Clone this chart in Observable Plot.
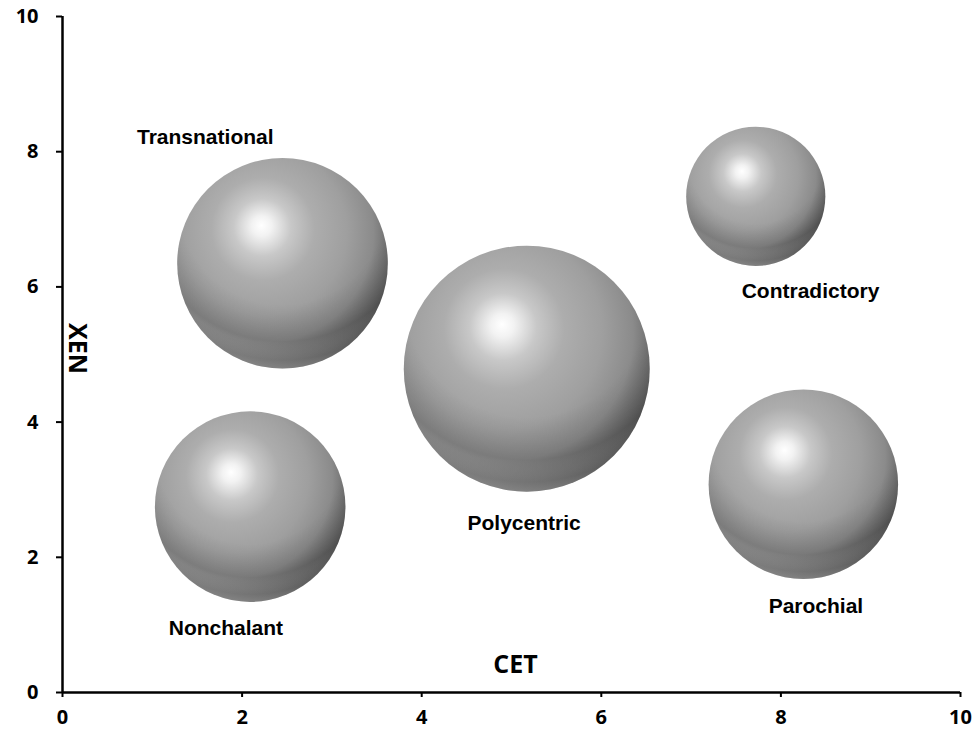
<!DOCTYPE html>
<html>
<head>
<meta charset="utf-8">
<script src="https://cdn.jsdelivr.net/npm/d3@7"></script>
<script src="https://cdn.jsdelivr.net/npm/@observablehq/plot@0.6"></script>
<style>
  html, body { margin: 0; padding: 0; background: #fff; }
  #chart svg { display: block; }
</style>
</head>
<body>
<div id="chart"></div>
<script>
// Data
const names  = ["Transnational", "Polycentric", "Contradictory", "Parochial", "Nonchalant"];
const cet    = [2.45, 5.17, 7.72, 8.25, 2.09];
const xen    = [6.35, 4.79, 7.34, 3.08, 2.75];
const sizes  = [11.0, 15.0, 4.8, 8.9, 9.0];
// label anchor positions (data units)
const labelX = [1.59, 5.14, 8.33, 8.39, 1.82];
const labelY = [8.22, 2.51, 5.93, 1.27, 0.95];
const ticks  = [0, 2, 4, 6, 8, 10];

const data = names.map((n, i) => ({name: n, x: cet[i], y: xen[i], s: sizes[i], lx: labelX[i], ly: labelY[i]}));

const fontTick = "'Open Sans', 'Liberation Sans', sans-serif";
const fontLbl = "'Liberation Sans Narrow', 'Liberation Sans', Arial, sans-serif";

const chart = Plot.plot({
  width: 979,
  height: 740,
  marginLeft: 62,
  marginRight: 19,
  marginTop: 16,
  marginBottom: 48,
  style: {fontFamily: fontTick, fontSize: "20px", fontWeight: "bold", color: "#000", background: "#fff"},
  x: {domain: [0, 10], ticks: ticks, label: null},
  y: {domain: [0, 10], ticks: ticks, label: null},
  r: {type: "sqrt", domain: [0, 15], range: [0, 123]},
  marks: [
    Plot.axisX({ticks: ticks, tickSize: 5, tickPadding: 12, fontSize: 20, fontWeight: "bold", stroke: "#000", strokeWidth: 2, label: null}),
    Plot.axisY({ticks: ticks, tickSize: 6, tickPadding: 18, fontSize: 20, fontWeight: "bold", stroke: "#000", strokeWidth: 2, label: null}),
    Plot.ruleX([0], {stroke: "#000", strokeWidth: 2.5}),
    Plot.ruleY([0], {stroke: "#000", strokeWidth: 2.5}),
    Plot.dot(data, {x: "x", y: "y", r: "s", fill: "url(#sphere)", stroke: "none"}),
    Plot.dot(data, {x: "x", y: "y", r: "s", fill: "url(#shade)", stroke: "none"}),
    Plot.text(data, {x: "lx", y: "ly", text: "name", fontSize: 21, fontWeight: "bold", fontFamily: fontLbl, fill: "#000"}),
    Plot.text(["CET"], {frameAnchor: "bottom", dy: -20, dx: 4, text: d => d, fontSize: 25, fontWeight: "bold", fontFamily: fontTick}),
    Plot.text(["XEN"], {frameAnchor: "left", textAnchor: "middle", dx: 14, dy: -6, rotate: 90, text: d => d, fontSize: 25, fontWeight: "bold", fontFamily: fontTick})
  ]
});

const ns = "http://www.w3.org/2000/svg";
const defs = document.createElementNS(ns, "defs");
defs.innerHTML = `
  <radialGradient id="sphere" cx="0.42" cy="0.37" r="0.68" fx="0.4" fy="0.32">
    <stop offset="0" stop-color="#ffffff"/>
    <stop offset="0.07" stop-color="#f2f2f2"/>
    <stop offset="0.2" stop-color="#c8c8c8"/>
    <stop offset="0.36" stop-color="#adadad"/>
    <stop offset="0.58" stop-color="#9f9f9f"/>
    <stop offset="0.76" stop-color="#8b8b8b"/>
    <stop offset="0.9" stop-color="#636363"/>
    <stop offset="1" stop-color="#444444"/>
  </radialGradient>
  <radialGradient id="shade" cx="0.5" cy="0.2" r="0.8">
    <stop offset="0" stop-color="#000" stop-opacity="0"/>
    <stop offset="0.62" stop-color="#000" stop-opacity="0"/>
    <stop offset="0.84" stop-color="#000" stop-opacity="0.13"/>
    <stop offset="0.95" stop-color="#fff" stop-opacity="0.08"/>
    <stop offset="1" stop-color="#fff" stop-opacity="0.25"/>
  </radialGradient>`;
chart.insertBefore(defs, chart.firstChild);
document.getElementById("chart").appendChild(chart);
</script>
</body>
</html>
